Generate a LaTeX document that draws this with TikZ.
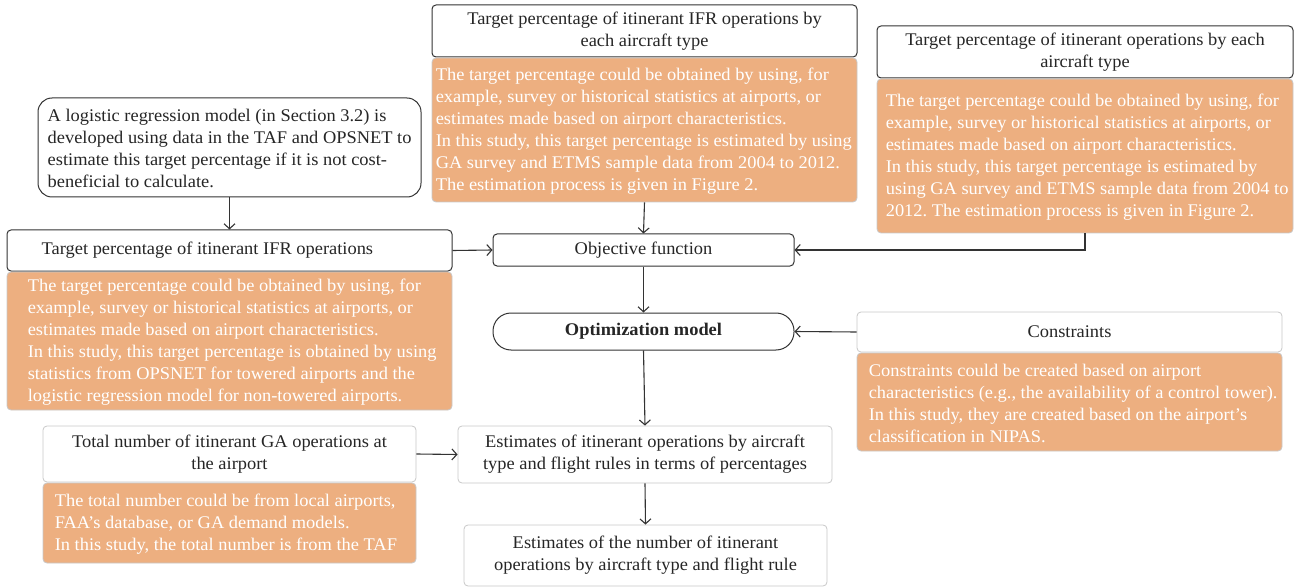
\documentclass[tikz,border=0pt]{standalone}
\usepackage{fontspec}
\setmainfont[FakeStretch=1.035]{Liberation Serif}
\usetikzlibrary{arrows.meta}
\definecolor{orng}{HTML}{EDAF80}
\definecolor{lnk}{HTML}{333333}
\definecolor{lgray}{HTML}{C8C8C8}
\frenchspacing
\begin{document}
\begin{tikzpicture}[x=1pt,y=-1pt,
  every node/.style={font=\fontsize{17.8}{22}\selectfont, text=black!85},
  darkbox/.style={draw=lnk, line width=1pt, rounded corners=4pt, fill=white, inner sep=0pt, align=center},
  lightbox/.style={draw=lgray, line width=0.8pt, rounded corners=4pt, fill=white, inner sep=0pt, align=center},
  notebox/.style={draw=lgray, line width=0.8pt, fill=orng, rounded corners=4pt, inner sep=0pt},
  txt/.style={anchor=west, align=left, inner sep=0pt},
  wtxt/.style={txt, text=white},
  link/.style={draw=lnk, line width=1.1pt, -{Straight Barb[length=5pt,width=11pt]}}]
\useasboundingbox (0,0) rectangle (1296,588);
% left column
\node[darkbox, rounded corners=14pt, minimum width=383pt, minimum height=99pt] (A) at (229.5,147.5) {};
\node[txt] (At) at ([xshift=10pt,yshift=-1pt]A.west)
 {A logistic regression model (in Section 3.2) is\\ developed using data in the TAF and OPSNET to\\ estimate this target percentage if it is not cost-\\ beneficial to calculate.};
\node[darkbox, minimum width=445pt, minimum height=41pt] (B) at (229.5,250.5) {};
\node[txt] (Bt) at ([xshift=35pt]B.west) {Target percentage of itinerant IFR operations};
\node[notebox, minimum width=445pt, minimum height=138pt] (Bn) at (229.5,341) {};
\node[wtxt] (Bnt) at ([xshift=21pt,yshift=-1pt]Bn.west)
 {The target percentage could be obtained by using, for\\ example, survey or historical statistics at airports, or\\ estimates made based on airport characteristics.\\ In this study, this target percentage is obtained by using\\ statistics from OPSNET for towered airports and the\\ logistic regression model for non-towered airports.};
\node[lightbox, minimum width=373pt, minimum height=56pt] (F) at (229.5,454)
 {Total number of itinerant GA operations at\\ the airport};
\node[notebox, minimum width=373pt, minimum height=80pt] (Fn) at (229.5,523) {};
\node[wtxt] (Fnt) at ([xshift=12pt,yshift=-1pt]Fn.west)
 {The total number could be from local airports,\\ FAA’s database, or GA demand models.\\ In this study, the total number is from the TAF};
% middle column
\node[darkbox, minimum width=425pt, minimum height=52pt] (C) at (644.5,31)
 {Target percentage of itinerant IFR operations by\\ each aircraft type};
\node[notebox, minimum width=425pt, minimum height=144pt] (Cn) at (644.5,130) {};
\node[wtxt] (Cnt) at ([xshift=4pt,yshift=-1pt]Cn.west)
 {The target percentage could be obtained by using, for\\ example, survey or historical statistics at airports, or\\ estimates made based on airport characteristics.\\ In this study, this target percentage is estimated by using\\ GA survey and ETMS sample data from 2004 to 2012.\\ The estimation process is given in Figure 2.};
\node[darkbox, minimum width=301pt, minimum height=32pt] (Obj) at (643.5,250) {Objective function};
\node[darkbox, rounded corners=18pt, minimum width=301pt, minimum height=37pt, font=\fontsize{17.8}{22}\selectfont\bfseries] (Opt) at (643.5,331.5) {Optimization model};
\node[lightbox, minimum width=374pt, minimum height=57pt] (G) at (645,454.5)
 {Estimates of itinerant operations by aircraft\\ type and flight rules in terms of percentages};
\node[lightbox, minimum width=363pt, minimum height=61pt] (H) at (645.5,555.5)
 {Estimates of the number of itinerant\\ operations by aircraft type and flight rule};
% right column
\node[darkbox, minimum width=416pt, minimum height=52pt] (D) at (1085,52)
 {Target percentage of itinerant operations by each\\ aircraft type};
\node[notebox, minimum width=416pt, minimum height=154pt] (Dn) at (1085,156) {};
\node[wtxt] (Dnt) at ([xshift=9pt,yshift=-1pt]Dn.west)
 {The target percentage could be obtained by using, for\\ example, survey or historical statistics at airports, or\\ estimates made based on airport characteristics.\\ In this study, this target percentage is estimated by\\ using GA survey and ETMS sample data from 2004 to\\ 2012. The estimation process is given in Figure 2.};
\node[lightbox, minimum width=425pt, minimum height=40pt] (E) at (1069.5,332) {Constraints};
\node[notebox, minimum width=425pt, minimum height=98pt] (En) at (1069.5,402) {};
\node[wtxt] (Ent) at ([xshift=12pt,yshift=-1pt]En.west)
 {Constraints could be created based on airport\\ characteristics (e.g., the availability of a control tower).\\ In this study, they are created based on the airport’s\\ classification in NIPAS.};
% connectors
\draw[link] (A.south) -- (B.north);
\draw[link] (B.east) -- (Obj.west);
\draw[link] (Cn.south) -- (Obj.north);
\draw[link] (Dn.south) -- (Dn.south |- Obj.east) -- (Obj.east);
\draw[link] (Obj.south) -- (Opt.north);
\draw[link] (E.west) -- (Opt.east);
\draw[link] (Opt.south) -- (G.north);
\draw[link] (F.east) -- (G.west);
\draw[link] (G.south) -- (H.north);
\end{tikzpicture}
\end{document}
